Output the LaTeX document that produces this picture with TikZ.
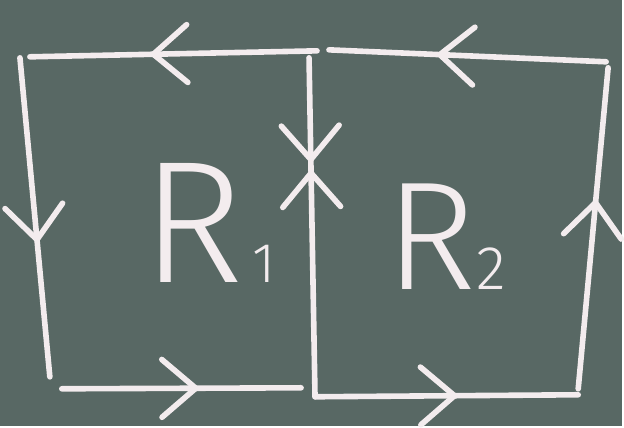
\documentclass[tikz,border=0pt]{standalone}
\usepackage{fontspec}
\newfontfamily\chalkfont{Fira Sans Light}
\usetikzlibrary{decorations.markings}
\definecolor{boardgreen}{HTML}{586864}
\definecolor{chalkwhite}{HTML}{F3ECEE}

\begin{document}
\begin{tikzpicture}[x=0.025cm, y=-0.025cm,
  chalk/.style={draw=chalkwhite, line width=4pt, line cap=round, line join=round},
  flowmark/.style={postaction={decorate, decoration={markings, mark=at position #1 with {\draw[chalk] (-34,29) -- (0,0) -- (-34,-29);}}}},
  region/.style={font=\chalkfont\fontsize{124}{124}\selectfont, text=chalkwhite, anchor=base west, inner sep=0pt},
]

% ── Board ──
\fill[boardgreen] (0,0) rectangle (624,427);

% ── Corners ──
\coordinate (topL) at (30,57);
\coordinate (topM) at (318,51);
\coordinate (topM2) at (330,50);
\coordinate (topR) at (608,62);
\coordinate (sideLt) at (20,58);
\coordinate (sideLb) at (50,378);
\coordinate (botL) at (62,390);
\coordinate (botM) at (302,389);
\coordinate (midT) at (310,58);
\coordinate (midB) at (316,398);
\coordinate (botR) at (580,396);
\coordinate (sideRb) at (580,390);
\coordinate (sideRt) at (610,68);

% ── Loop R1 ──
\draw[chalk, flowmark=0.57] (topM) -- (topL);
\draw[chalk, flowmark=0.57] (sideLt) -- (sideLb);
\draw[chalk, flowmark=0.56] (botL) -- (botM);
\draw[chalk, flowmark=0.30] (midT) -- (midB);

% ── Loop R2 ──
\draw[chalk, flowmark=0.60] (topR) -- (topM2);
\draw[chalk, flowmark=0.53] (midB) -- (botR);
\draw[chalk, flowmark=0.58] (sideRb) -- (sideRt);
\path[flowmark=0.66] (midB) -- (midT);

% ── Labels ──
\node[region] (lblR1) at (142,283) {R\kern6pt{\fontsize{40}{40}\selectfont 1}};
\node[region, font=\chalkfont\fontsize{110}{110}\selectfont] (lblR2) at (386,290) {R{\fontsize{44}{44}\selectfont 2}};

\end{tikzpicture}
\end{document}
